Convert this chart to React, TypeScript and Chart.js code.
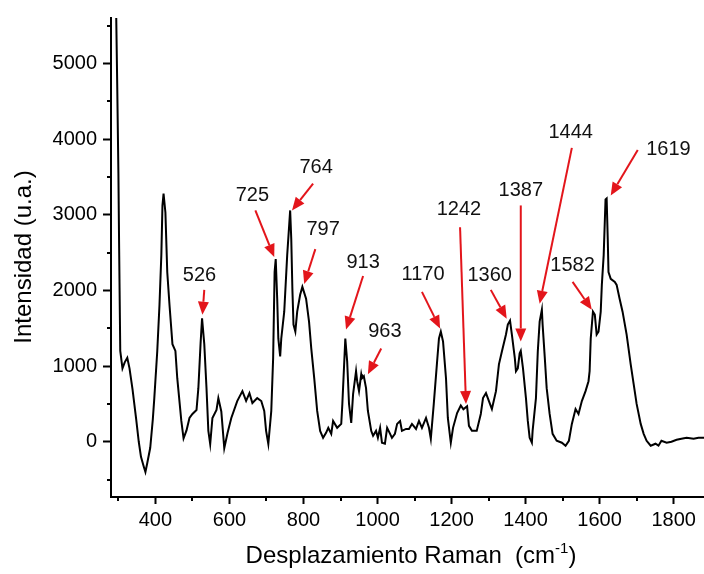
import React, { useEffect, useRef } from "react";
import { Chart, registerables } from "chart.js";

Chart.register(...registerables);

// Raman shift (cm-1)
const ramanShift = [
  290, 297, 300, 302, 305, 311, 317, 324, 330, 338, 348, 355, 361, 368, 373, 378, 386, 393, 397,
  405, 411, 416, 419, 422, 427, 432, 438, 446, 454, 459, 470, 476, 484, 492, 500, 511, 516, 522,
  526, 532, 538, 543, 548, 554, 565, 570, 578, 586, 595, 605, 621, 635, 645, 654, 662, 675, 686,
  694, 699, 705, 713, 718, 722, 725, 729, 732, 737, 740, 748, 756, 764, 767, 770, 773, 778, 783,
  791, 797, 807, 815, 821, 829, 837, 845, 853, 861, 867, 875, 880, 891, 902, 905, 913, 918, 923,
  929, 934, 942, 945, 950, 956, 958, 963, 969, 974, 983, 988, 996, 1001, 1007, 1012, 1020, 1026,
  1034, 1039, 1047, 1053, 1061, 1066, 1077, 1085, 1093, 1104, 1112, 1120, 1131, 1139, 1144, 1152,
  1161, 1166, 1171, 1177, 1185, 1190, 1198, 1204, 1215, 1225, 1232, 1242, 1247, 1255, 1268, 1279,
  1285, 1293, 1301, 1309, 1320, 1328, 1336, 1347, 1352, 1358, 1363, 1371, 1374, 1379, 1384, 1387,
  1393, 1401, 1406, 1411, 1417, 1419, 1428, 1433, 1438, 1444, 1446, 1452, 1457, 1465, 1473, 1484,
  1498, 1508, 1517, 1525, 1535, 1543, 1552, 1562, 1570, 1573, 1576, 1582, 1587, 1592, 1597, 1603,
  1606, 1611, 1616, 1619, 1622, 1624, 1630, 1641, 1646, 1654, 1662, 1673, 1684, 1692, 1700, 1711,
  1719, 1727, 1738, 1751, 1759, 1767, 1781, 1794, 1808, 1821, 1835, 1854, 1867, 1882,
];

// Intensity (u.a.)
const intensity = [
  7000, 4650, 3550, 2550, 1200, 970, 1050, 1110, 970, 700, 300, 0, -200, -320, -400, -280, -80, 300, 577,
  1200, 1810, 2470, 3120, 3280, 3030, 2240, 1810, 1290, 1200, 840, 275, 45, 150, 315, 367, 420, 708, 1300,
  1630, 1290, 708, 144, -30, 315, 420, 577, 400, -85, 120, 315, 538, 669, 540, 643, 512, 577, 538,
  407, 144, -30, 407, 1102, 2243, 2414, 1890, 1365, 1128, 1365, 1719, 2467, 3057, 2676, 2020, 1548, 1456, 1719,
  1942, 2047, 1890, 1588, 1233, 840, 407, 144, 52, 118, 184, 105, 275, 184, 236, 500, 1365, 1063, 500,
  249, 630, 932, 800, 669, 892, 840, 866, 708, 407, 144, 79, 144, 52, 184, -13, -26, 184,
  105, 52, 105, 236, 275, 144, 170, 170, 236, 170, 275, 184, 315, 184, 39, 500,
  1063, 1365, 1456, 1325, 840, 315, -13, 184, 380, 480, 430, 470, 210, 144, 144, 367,
  577, 643, 538, 433, 669, 1023, 1194, 1417, 1548, 1600, 1417, 1102, 932, 971, 1168, 1200,
  971, 577, 275, 52, -13, 144, 577, 1194, 1588, 1745, 1548, 1102, 708, 367, 105, 13,
  -13, -52, 13, 236, 433, 367, 538, 669, 800, 932, 1365, 1719, 1680, 1417, 1456, 1719,
  2073, 2467, 3201, 3215, 2676, 2243, 2152, 2112, 2073, 1890, 1719, 1417, 1023, 761, 500, 236,
  105, 13, -52, -26, -52, 13, -13, 0, 26, 39, 52, 39, 52, 52,
];

const xTickValues = [400, 600, 800, 1000, 1200, 1400, 1600, 1800];
const xMinorTickValues = [300, 500, 700, 900, 1100, 1300, 1500, 1700];
const yTickValues = [0, 1000, 2000, 3000, 4000, 5000];
const yMinorTickValues = [-500, 500, 1500, 2500, 3500, 4500, 5500];

// Peak annotations
const peakLabels = ["526", "725", "764", "797", "913", "963", "1170", "1242", "1360", "1387", "1444", "1582", "1619"];

// annotation geometry (data coordinates): label centre, arrow tail, arrow head
const labelX = [519, 662, 834, 853, 961, 1020, 1123, 1220, 1303, 1387, 1522, 1527, 1786];
const labelY = [2191, 3254, 3621, 2808, 2375, 1456, 2217, 3070, 2191, 3319, 4093, 2335, 3857];
const tailX = [532, 670, 826, 832, 961, 1010, 1120, 1223, 1306, 1387, 1525, 1527, 1703];
const tailY = [2007, 3057, 3411, 2545, 2191, 1233, 1981, 2834, 2007, 3123, 3884, 2112, 3857];
const headX = [527, 721, 769, 802, 915, 974, 1169, 1239, 1349, 1387, 1438, 1579, 1630];
const headY = [1679, 2440, 3057, 2086, 1483, 892, 1496, 499, 1627, 1325, 1824, 1745, 3254];

const FONT = "'Liberation Sans', Arial, Helvetica, sans-serif";

const overlayPlugin = {
  id: "overlay",
  afterDraw(chart: any) {
    const ctx = chart.ctx as CanvasRenderingContext2D;
    const xs = chart.scales.x;
    const ys = chart.scales.y;
    const area = chart.chartArea;
    ctx.save();
    // minor ticks
    ctx.strokeStyle = "#000";
    ctx.lineWidth = 2;
    ctx.beginPath();
    xMinorTickValues.forEach((v) => {
      const px = Math.round(xs.getPixelForValue(v));
      ctx.moveTo(px, area.bottom);
      ctx.lineTo(px, area.bottom + 4);
    });
    yMinorTickValues.forEach((v) => {
      const py = Math.round(ys.getPixelForValue(v));
      ctx.moveTo(area.left - 4, py);
      ctx.lineTo(area.left, py);
    });
    ctx.stroke();

    // arrows
    const red = "#e3151b";
    peakLabels.forEach((lab, i) => {
      const x0 = xs.getPixelForValue(tailX[i]);
      const y0 = ys.getPixelForValue(tailY[i]);
      const x1 = xs.getPixelForValue(headX[i]);
      const y1 = ys.getPixelForValue(headY[i]);
      const ang = Math.atan2(y1 - y0, x1 - x0);
      const hl = 13;
      const hw = 5.5;
      const bx = x1 - hl * Math.cos(ang);
      const by = y1 - hl * Math.sin(ang);
      ctx.strokeStyle = red;
      ctx.fillStyle = red;
      ctx.lineWidth = 2;
      ctx.beginPath();
      ctx.moveTo(x0, y0);
      ctx.lineTo(bx, by);
      ctx.stroke();
      ctx.beginPath();
      ctx.moveTo(x1, y1);
      ctx.lineTo(bx + hw * Math.sin(ang), by - hw * Math.cos(ang));
      ctx.lineTo(bx - hw * Math.sin(ang), by + hw * Math.cos(ang));
      ctx.closePath();
      ctx.fill();

      ctx.fillStyle = "#111";
      ctx.font = `20px ${FONT}`;
      ctx.textAlign = "center";
      ctx.textBaseline = "middle";
      ctx.fillText(lab, xs.getPixelForValue(labelX[i]), ys.getPixelForValue(labelY[i]));
    });

    // axis titles
    ctx.fillStyle = "#000";
    ctx.font = `24px ${FONT}`;
    ctx.textBaseline = "alphabetic";
    // y title
    ctx.save();
    ctx.translate(31, 257);
    ctx.rotate(-Math.PI / 2);
    ctx.textAlign = "center";
    ctx.fillText("Intensidad (u.a.)", 0, 0);
    ctx.restore();
    // x title with superscript
    const main = "Desplazamiento Raman  (cm";
    const sup = "-1";
    const close = ")";
    ctx.font = `24px ${FONT}`;
    const wMain = ctx.measureText(main).width;
    const wClose = ctx.measureText(close).width;
    ctx.font = `15px ${FONT}`;
    const wSup = ctx.measureText(sup).width;
    const total = wMain + wSup + wClose;
    let x = 411 - total / 2;
    const base = 563;
    ctx.textAlign = "left";
    ctx.font = `24px ${FONT}`;
    ctx.fillText(main, x, base);
    x += wMain;
    ctx.font = `15px ${FONT}`;
    ctx.fillText(sup, x, base - 10);
    x += wSup;
    ctx.font = `24px ${FONT}`;
    ctx.fillText(close, x, base);
    ctx.restore();
  },
};

export default function App() {
  const canvasRef = useRef<HTMLCanvasElement | null>(null);

  useEffect(() => {
    if (!canvasRef.current) return;
    const points = ramanShift.map((x, i) => ({ x, y: intensity[i] }));
    const chart = new Chart(canvasRef.current, {
      type: "line",
      data: {
        datasets: [
          {
            label: "Raman",
            data: points,
            borderColor: "#000",
            borderWidth: 2,
            pointRadius: 0,
            tension: 0,
            fill: false,
          },
        ],
      },
      options: {
        animation: false,
        responsive: false,
        devicePixelRatio: 1,
        layout: { padding: { top: 14, right: 0, left: 0, bottom: 0 } },
        plugins: { legend: { display: false }, tooltip: { enabled: false }, title: { display: false } },
        scales: {
          x: {
            type: "linear",
            min: 280,
            max: 1882,
            afterBuildTicks: (s: any) => {
              s.ticks = xTickValues.map((v) => ({ value: v }));
            },
            afterFit: (s: any) => {
              s.height = 77;
            },
            grid: { display: true, drawOnChartArea: false, drawTicks: true, tickLength: 7, tickWidth: 2, tickColor: "#000" },
            border: { display: true, color: "#000", width: 2 },
            ticks: {
              color: "#000",
              font: { family: FONT, size: 20 },
              padding: 4,
              maxRotation: 0,
              autoSkip: false,
              callback: (v: any) => String(v),
            },
            title: { display: false },
          },
          y: {
            type: "linear",
            min: -730,
            max: 5600,
            afterBuildTicks: (s: any) => {
              s.ticks = yTickValues.map((v) => ({ value: v }));
            },
            afterFit: (s: any) => {
              s.width = 111;
            },
            grid: { display: true, drawOnChartArea: false, drawTicks: true, tickLength: 8, tickWidth: 2, tickColor: "#000" },
            border: { display: true, color: "#000", width: 2 },
            ticks: {
              color: "#000",
              font: { family: FONT, size: 20 },
              padding: 6,
              autoSkip: false,
              callback: (v: any) => String(v),
            },
            title: { display: false },
          },
        },
      },
      plugins: [overlayPlugin],
    });
    return () => chart.destroy();
  }, []);

  return (
    <div style={{ position: "fixed", left: 0, top: 0, width: 704, height: 574, background: "#fff" }}>
      <canvas ref={canvasRef} width={704} height={574} style={{ display: "block" }} />
    </div>
  );
}
